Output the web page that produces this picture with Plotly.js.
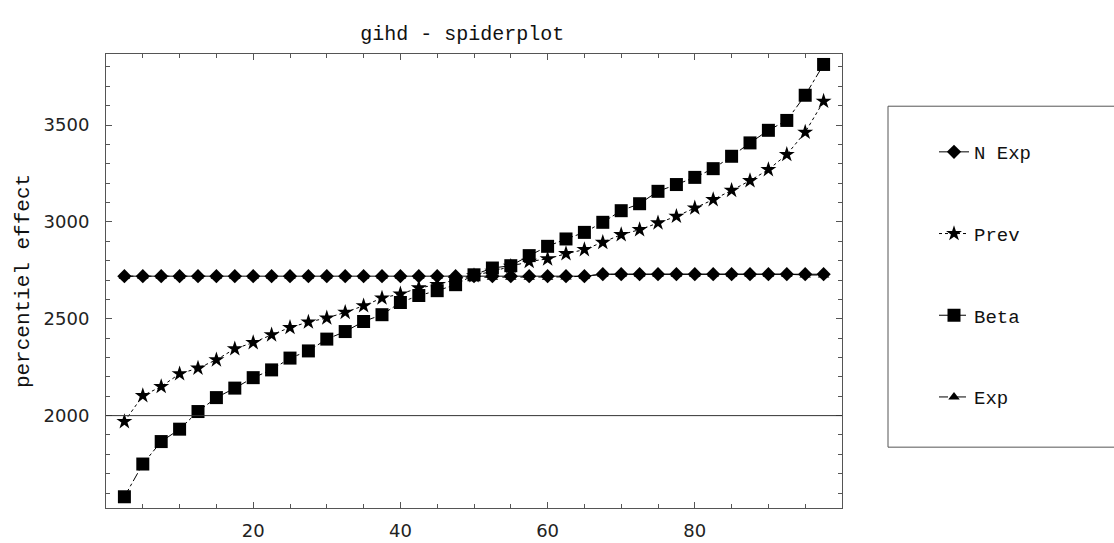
<!DOCTYPE html>
<html>
<head>
<meta charset="utf-8">
<script src="https://cdn.plot.ly/plotly-3.0.1.min.js"></script>
<style>html,body{margin:0;padding:0;background:#fff;}#chart{width:1114px;height:543px;}</style>
</head>
<body>
<div id="chart"></div>
<script>
const percentiles = [2.5, 5, 7.5, 10, 12.5, 15, 17.5, 20, 22.5, 25, 27.5, 30, 32.5, 35, 37.5, 40, 42.5, 45, 47.5, 50, 52.5, 55, 57.5, 60, 62.5, 65, 67.5, 70, 72.5, 75, 77.5, 80, 82.5, 85, 87.5, 90, 92.5, 95, 97.5];
const nExp = [2720, 2720, 2720, 2720, 2720, 2720, 2720, 2720, 2720, 2720, 2720, 2720, 2720, 2720, 2720, 2720, 2720, 2720, 2720, 2720, 2720, 2720, 2720, 2720, 2720, 2720, 2730, 2730, 2730, 2730, 2730, 2730, 2730, 2730, 2730, 2730, 2730, 2730, 2730];
const prev = [1969, 2103, 2150, 2216, 2245, 2288, 2345, 2377, 2417, 2455, 2483, 2504, 2533, 2567, 2607, 2628, 2659, 2676, 2702, 2722, 2745, 2770, 2796, 2809, 2836, 2857, 2894, 2934, 2960, 2995, 3029, 3072, 3115, 3163, 3213, 3270, 3348, 3463, 3623];
const beta = [1581, 1750, 1866, 1930, 2021, 2093, 2142, 2196, 2236, 2297, 2334, 2395, 2434, 2486, 2521, 2584, 2620, 2645, 2676, 2727, 2762, 2774, 2826, 2874, 2912, 2946, 2998, 3058, 3094, 3158, 3193, 3230, 3275, 3339, 3408, 3473, 3524, 3654, 3813];
const exp = [2720, 2720, 2720, 2720, 2720, 2720, 2720, 2720, 2720, 2720, 2720, 2720, 2720, 2720, 2720, 2720, 2720, 2720, 2720, 2714, 2714, 2714, 2714, 2714, 2716, 2720, 2730, 2730, 2730, 2730, 2730, 2730, 2730, 2730, 2730, 2730, 2730, 2726, 2726];
const seriesNames = ["N Exp", "Prev", "Beta", "Exp"];
const yTicks = [2000, 2500, 3000, 3500];
const xTicks = [20, 40, 60, 80];

const mono = "Liberation Mono, Courier New, monospace";
const sans = "DejaVu Sans, sans-serif";

function tr(y, name, dash, symbol, size) {
  return {
    x: percentiles, y: y, name: name, type: "scatter", mode: "lines+markers",
    legendgroup: name,
    line: {color: "#000", width: 1, dash: dash},
    marker: {symbol: symbol, size: size, color: "#000"}
  };
}
const data = [
  tr(nExp, seriesNames[0], "solid", "diamond", 11),
  tr(prev, seriesNames[1], "dot", "star", 12),
  tr(beta, seriesNames[2], "dashdot", "square", 13),
  tr(exp, seriesNames[3], "dash", "triangle-up", 10)
];

const axisCommon = {
  showline: true, linecolor: "#555", linewidth: 1, mirror: "allticks",
  ticks: "inside", ticklen: 6, tickcolor: "#555", tickwidth: 1,
  showgrid: false, zeroline: false,
  tickfont: {family: sans, size: 18, color: "#222"}
};

const layout = {
  width: 1114, height: 543,
  margin: {l: 106, r: 272, t: 54, b: 35, autoexpand: false},
  paper_bgcolor: "#fff", plot_bgcolor: "#fff",
  title: {text: "gihd - spiderplot", font: {family: mono, size: 20, color: "#111"},
          x: 0.415, xanchor: "center", y: 0.94, yanchor: "middle"},
  xaxis: Object.assign({}, axisCommon, {
    range: [0, 100], tickmode: "array", tickvals: xTicks, ticktext: xTicks.map(String),
    minor: {dtick: 5, tick0: 0, ticklen: 4, ticks: "inside", tickcolor: "#555", showgrid: false},
    ticklabelstandoff: 6
  }),
  yaxis: Object.assign({}, axisCommon, {
    range: [1523, 3867], tickmode: "array", tickvals: yTicks, ticktext: yTicks.map(String),
    minor: {dtick: 100, tick0: 0, ticklen: 4, ticks: "inside", tickcolor: "#555", showgrid: false},
    ticklabelstandoff: 12,
    title: {text: "percentiel effect", font: {family: mono, size: 21, color: "#111"}, standoff: 8}
  }),
  shapes: [
    {type: "line", xref: "paper", x0: 0, x1: 1, yref: "y", y0: 2000, y1: 2000,
     line: {color: "#333", width: 1}},
    {type: "rect", xref: "paper", yref: "paper", x0: 1.0625, x1: 1.5, y0: 0.134, y1: 0.885,
     line: {color: "#555", width: 1}, fillcolor: "rgba(0,0,0,0)"}
  ],
  showlegend: true,
  legend: {
    x: 1.125, xanchor: "left", y: 0.826, yanchor: "top",
    borderwidth: 0, bgcolor: "rgba(0,0,0,0)",
    font: {family: mono, size: 19, color: "#111"},
    traceorder: "grouped", tracegroupgap: 54
  }
};

Plotly.newPlot("chart", data, layout, {displayModeBar: false, staticPlot: true});
</script>
</body>
</html>
